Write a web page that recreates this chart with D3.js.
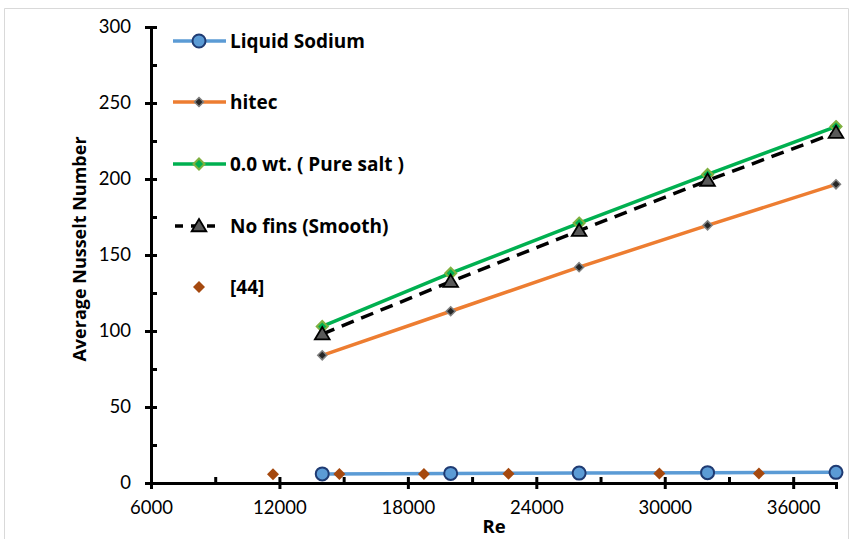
<!DOCTYPE html>
<html>
<head>
<meta charset="utf-8">
<script src="https://cdn.jsdelivr.net/npm/d3@7"></script>
<style>
  html, body { margin: 0; padding: 0; background: #fff; }
  svg { display: block; font-family: "Open Sans", Lato, sans-serif; }
</style>
</head>
<body>
<svg id="chart" width="866" height="539"></svg>
<script>
// Reynolds numbers of the simulated cases
const reValues = [14000, 20000, 26000, 32000, 38000];
// Average Nusselt number per fluid / configuration
const liquidSodium = [6.0, 6.3, 6.5, 6.8, 7.0];
const hitec = [84, 113, 142, 169.5, 196.5];
const pureSalt = [103, 138, 171, 203, 234.5];
const noFins = [98, 132.5, 166, 199, 230.5];
// Reference correlation [44]
const refRe = [11700, 14800, 18750, 22700, 29750, 34400];
const refNu = [5.8, 5.9, 6.0, 6.1, 6.2, 6.3];
// Axis ticks
const xMajor = [6000, 12000, 18000, 24000, 30000, 36000];
const xMinor = [9000, 15000, 21000, 27000, 33000];
const yMajor = [0, 50, 100, 150, 200, 250, 300];
const yMinor = [25, 75, 125, 175, 225, 275];
const legendNames = ["Liquid Sodium", "hitec", "0.0 wt. ( Pure salt )", "No fins (Smooth)", "[44]"];

const svg = d3.select("#chart");

// outer chart frame
svg.append("path")
  .attr("d", "M4.5,539 V8.5 H848.5 V539")
  .attr("fill", "none").attr("stroke", "#d9d9d9").attr("stroke-width", 1);

const x = d3.scaleLinear().domain([6000, 38000]).range([151, 836]);
const y = d3.scaleLinear().domain([0, 300]).range([483, 27]);

const tickFont = 18.5;

// Y axis
const yAxisG = svg.append("g").attr("transform", "translate(151,0)")
  .call(d3.axisLeft(y).tickValues(yMajor).tickSize(6).tickPadding(14));
yAxisG.select(".domain").attr("stroke", "#000").attr("stroke-width", 3);
yAxisG.selectAll(".tick line").attr("x1", -6).attr("x2", 6).attr("stroke", "#000").attr("stroke-width", 3);
yAxisG.selectAll(".tick text").attr("font-size", tickFont).attr("fill", "#000")
  .attr("font-family", "Lato, sans-serif");
const yMinorG = svg.append("g").attr("transform", "translate(151,0)")
  .call(d3.axisLeft(y).tickValues(yMinor).tickSize(-6).tickFormat(""));
yMinorG.select(".domain").remove();
yMinorG.selectAll(".tick line").attr("stroke", "#000").attr("stroke-width", 3);

// X axis
const xAxisG = svg.append("g").attr("transform", "translate(0,483)")
  .call(d3.axisBottom(x).tickValues(xMajor).tickSize(6).tickPadding(12).tickFormat(d3.format("d")));
xAxisG.select(".domain").attr("stroke", "#000").attr("stroke-width", 3);
xAxisG.selectAll(".tick line").attr("y1", -6).attr("y2", 6).attr("stroke", "#000").attr("stroke-width", 3);
xAxisG.selectAll(".tick text").attr("font-size", tickFont).attr("fill", "#000")
  .attr("font-family", "Lato, sans-serif");
const xMinorG = svg.append("g").attr("transform", "translate(0,483)")
  .call(d3.axisBottom(x).tickValues(xMinor).tickSize(-6).tickFormat(""));
xMinorG.select(".domain").remove();
xMinorG.selectAll(".tick line").attr("stroke", "#000").attr("stroke-width", 3);

// Axis titles
svg.append("text").attr("x", 494).attr("y", 533).attr("text-anchor", "middle")
  .attr("font-size", 18.5).attr("font-weight", "bold").text("Re");
svg.append("text").attr("transform", "translate(86,249) rotate(-90)").attr("text-anchor", "middle")
  .attr("font-size", 18).attr("font-weight", "bold").text("Average Nusselt Number");

const line = d3.line().x(d => x(d[0])).y(d => y(d[1]));
const zip = (xs, ys) => xs.map((v, i) => [v, ys[i]]);

const diamond = s => `M0,${-s}L${s},0L0,${s}L${-s},0Z`;
const triangle = s => `M0,${-s}L${s * 1.05},${s * 0.75}L${-s * 1.05},${s * 0.75}Z`;

const series = [
  { data: zip(reValues, liquidSodium), stroke: "#5b9bd5", width: 3.5, dash: null,
    marker: g => g.append("circle").attr("r", 6.5).attr("fill", "#5b9bd5").attr("stroke", "#1f3b73").attr("stroke-width", 2) },
  { data: zip(reValues, hitec), stroke: "#ed7d31", width: 3.5, dash: null,
    marker: g => g.append("path").attr("d", diamond(4.5)).attr("fill", "#262626").attr("stroke", "#808080").attr("stroke-width", 1.5) },
  { data: zip(reValues, pureSalt), stroke: "#00b050", width: 3.5, dash: null,
    marker: g => g.append("path").attr("d", diamond(5.5)).attr("fill", "#00b050").attr("stroke", "#7fb040").attr("stroke-width", 2) },
  { data: zip(reValues, noFins), stroke: "#000", width: 3.5, dash: "13,8",
    marker: g => g.append("path").attr("d", triangle(7)).attr("fill", "#595959").attr("stroke", "#000").attr("stroke-width", 1.8) },
  { data: zip(refRe, refNu), stroke: null,
    marker: g => g.append("path").attr("d", diamond(6)).attr("fill", "#a5490f").attr("stroke", "none") }
];

series.forEach(s => {
  if (s.stroke) {
    svg.append("path").datum(s.data).attr("d", line)
      .attr("fill", "none").attr("stroke", s.stroke).attr("stroke-width", s.width)
      .attr("stroke-dasharray", s.dash);
  }
  s.data.forEach(d => {
    const g = svg.append("g").attr("transform", `translate(${x(d[0])},${y(d[1])})`);
    s.marker(g);
  });
});

// Legend
const legendY = [41, 102, 164, 226, 287];
series.forEach((s, i) => {
  const g = svg.append("g").attr("transform", `translate(0,${legendY[i]})`);
  if (s.stroke) {
    g.append("line").attr("x1", s.dash ? 175 : 173).attr("x2", s.dash ? 216 : 226).attr("y1", 0).attr("y2", 0)
      .attr("stroke", s.stroke).attr("stroke-width", s.width).attr("stroke-dasharray", s.dash ? "8,8" : null);
  }
  const m = g.append("g").attr("transform", "translate(199,0)");
  s.marker(m);
  g.append("text").attr("x", 230).attr("y", 0).attr("dy", "0.35em")
    .attr("font-size", 19).attr("font-weight", "bold").text(legendNames[i]);
});
</script>
</body>
</html>
